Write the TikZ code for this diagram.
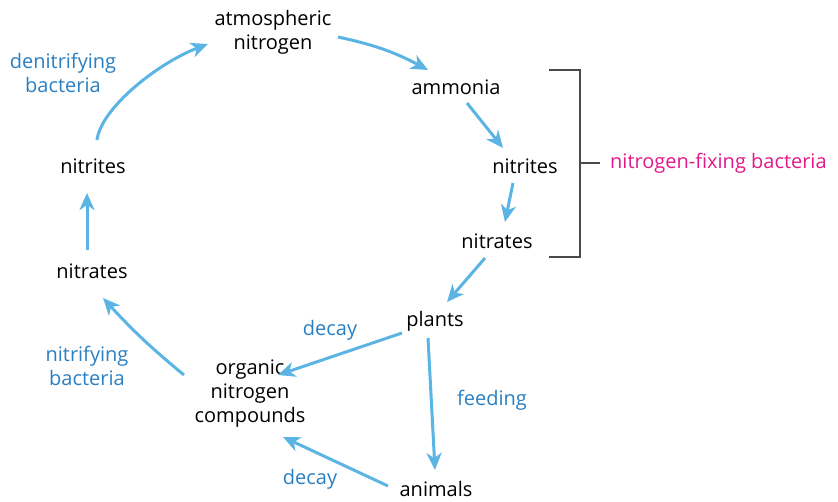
\documentclass[tikz,border=0pt]{standalone}
\usepackage{fontspec}
\setmainfont{Open Sans}
\usetikzlibrary{arrows.meta}
\definecolor{arrblue}{HTML}{5BB4E3}
\definecolor{lblblue}{HTML}{2A7FC2}
\definecolor{fixmag}{HTML}{E2198A}
\definecolor{brgray}{HTML}{4A4A4A}
\tikzset{
  term/.style={font=\fontsize{20}{24}\selectfont, text=black, align=center, inner sep=0pt},
  lbl/.style={font=\fontsize{20}{24}\selectfont, text=lblblue, align=center, inner sep=0pt},
  arr/.style={draw=arrblue, line width=3pt, -{Stealth[length=17pt,width=15pt,inset=5pt]}},
}
\begin{document}
\begin{tikzpicture}[x=1pt,y=-1pt]
\useasboundingbox (0,0) rectangle (838,502);
% terms
\node[term] (atmos) at (273,32) {atmospheric\\nitrogen};
\node[term] (ammonia) at (456,87) {ammonia};
\node[term] (nitritesR) at (525,166) {nitrites};
\node[term] (nitratesR) at (497,241) {nitrates};
\node[term] (plants) at (435,321) {plants};
\node[term] (organic) at (250,394) {organic\\nitrogen\\compounds};
\node[term] (animals) at (436,489) {animals};
\node[term] (nitratesL) at (92,271) {nitrates};
\node[term] (nitritesL) at (93,166) {nitrites};
% labels
\node[lbl] (denitr) at (63,73) {denitrifying\\bacteria};
\node[lbl] (nitrif) at (87,366) {nitrifying\\bacteria};
\node[lbl] (decay1) at (330,330) {decay};
\node[lbl] (feeding) at (492,400) {feeding};
\node[lbl] (decay2) at (310,479) {decay};
\node[font=\fontsize{20}{24}\selectfont, text=fixmag, anchor=west, inner sep=0pt] (fixing) at (610,163) {nitrogen-fixing bacteria};
% arrows
\draw[arr] ([shift={(4,-26)}]nitritesL.center) .. controls +(4,-32) and +(-50,19) .. ([shift={(-65,12)}]atmos.center);
\draw[arr] ([shift={(65,5)}]atmos.center) to[bend left=8] ([shift={(-28,-17)}]ammonia.center);
\draw[arr] ([shift={(11,16)}]ammonia.center) -- ([shift={(-22,-18)}]nitritesR.center);
\draw[arr] ([shift={(-12,17)}]nitritesR.center) -- ([shift={(8,-19)}]nitratesR.center);
\draw[arr] ([shift={(-12,17)}]nitratesR.center) -- ([shift={(12,-19)}]plants.center);
\draw[arr] ([shift={(-33,12)}]plants.center) -- ([shift={(28,-19)}]organic.center);
\draw[arr] ([shift={(-7,17)}]plants.center) -- ([shift={(-1,-19)}]animals.center);
\draw[arr] ([shift={(-48,-3)}]animals.center) -- ([shift={(33,43)}]organic.center);
\draw[arr] ([shift={(-66,-19)}]organic.center) to[bend left=4] ([shift={(11,27)}]nitratesL.center);
\draw[arr] ([shift={(-5,-21)}]nitratesL.center) -- ([shift={(-6,27)}]nitritesL.center);
% bracket
\coordinate (brTop) at (549,70);
\coordinate (brBot) at (549,257);
\coordinate (brMid) at (580,163);
\draw[brgray, line width=1.5pt] (brTop) -- (580,70) -- (580,257) -- (brBot);
\draw[brgray, line width=1.5pt] (brMid) -- ([xshift=-10pt]fixing.west);
\end{tikzpicture}
\end{document}
